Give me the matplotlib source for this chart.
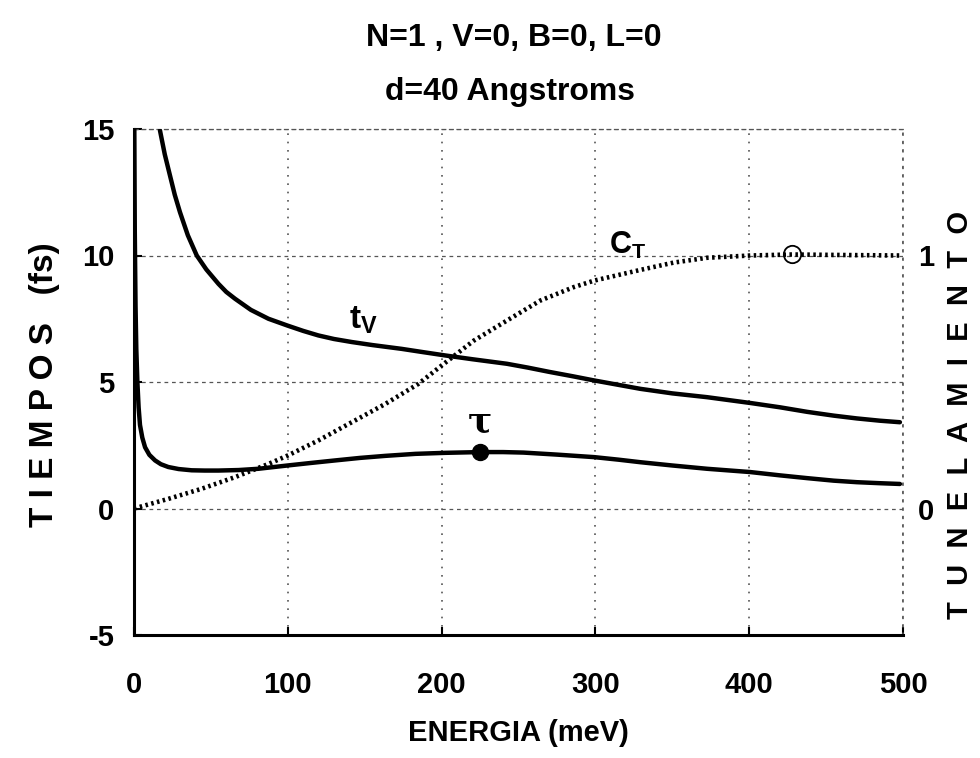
import matplotlib
matplotlib.use("Agg")
import matplotlib.pyplot as plt

plt.rcParams['font.family'] = ['Liberation Sans', 'DejaVu Sans']
plt.rcParams['font.weight'] = 'bold'
plt.rcParams['axes.labelweight'] = 'bold'
plt.rcParams['axes.unicode_minus'] = False
plt.rcParams['mathtext.default'] = 'regular'

# ---- data ----
E_tv = [16.9, 20, 23.4, 26.5, 29.9, 35, 40.8, 47, 54.9, 60, 65.7, 76, 87.4, 99.8, 110, 119.9, 130, 141.6, 155,
        174, 188, 202.3, 220, 242.5, 256, 270, 285, 299.3, 329.2, 350, 372.6, 400.8, 420, 437.7, 455, 470, 485, 498]
t_v = [14.94, 14.0, 13.16, 12.4, 11.71, 10.8, 10.0, 9.45, 8.88, 8.56, 8.29, 7.85, 7.5, 7.23, 7.02, 6.84, 6.7, 6.58,
       6.46, 6.31, 6.18, 6.05, 5.9, 5.72, 5.57, 5.4, 5.23, 5.06, 4.73, 4.55, 4.4, 4.17, 4.0, 3.82, 3.67, 3.56, 3.47, 3.41]

E_tau = [0.2, 0.5, 1.0, 1.5, 2.2, 3.0, 3.9, 5.4, 7.2, 10, 13.7, 17.5, 22.3, 29, 37.5, 46, 54.9, 68, 80.9, 99.8,
         115, 130.8, 147, 163.3, 183, 202.3, 225.1, 240, 253.3, 275, 299.3, 315, 329.2, 350, 372.6, 400.8, 420,
         437.7, 455, 470, 485, 498]
tau = [15.0, 11.0, 8.0, 6.3, 5.0, 4.0, 3.3, 2.8, 2.42, 2.12, 1.9, 1.75, 1.64, 1.56, 1.51, 1.5, 1.5, 1.52, 1.57, 1.7,
       1.8, 1.9, 2.0, 2.08, 2.16, 2.2, 2.23, 2.23, 2.21, 2.13, 2.03, 1.93, 1.83, 1.7, 1.57, 1.44, 1.31, 1.2, 1.1, 1.04,
       1.0, 0.97]

E_ct = [0, 22.3, 44, 65.7, 87.4, 99.8, 119.9, 141.6, 163.3, 185, 200, 220.8, 242.5, 264.2, 285.9, 299.3,
        315, 329.2, 350.9, 372.6, 400.8, 427.9, 460, 498]
ct = [0.0, 0.038, 0.078, 0.124, 0.176, 0.209, 0.269, 0.341, 0.413, 0.493, 0.565, 0.663, 0.743, 0.822, 0.875, 0.901,
      0.923, 0.943, 0.972, 0.991, 1.0, 1.004, 1.002, 1.0]

tau_mark = (225.1, 2.23)
ct_mark = (427.9, 1.004)

x_ticks = [0, 100, 200, 300, 400, 500]
y_ticks = [-5, 0, 5, 10, 15]
r_ticks = [0, 1]

title1 = "N=1 , V=0, B=0, L=0"
title2 = "d=40 Angstroms"

fig = plt.figure(figsize=(9.8, 7.58), dpi=100)
ax = fig.add_axes([134/980, 1-635/758, (903-134)/980, (635-129)/758])
ax.set_xlim(0, 500)
ax.set_ylim(-5, 15)

ax.plot(E_tv, t_v, color='black', lw=3.2, solid_capstyle='round', solid_joinstyle='round', zorder=4)
ax.plot(E_tau, tau, color='black', lw=3.2, solid_capstyle='round', solid_joinstyle='round', zorder=4)
ax.plot(*tau_mark, marker='o', ms=11.5, color='black', zorder=5)

ax2 = ax.twinx()
ax2.set_ylim(-0.5, 1.5)
ax2.plot(E_ct, ct, color='black', lw=3.3, linestyle=(0, (0.55, 0.75)), zorder=4)
ax2.plot(*ct_mark, marker='o', ms=12.5, mfc='none', mec='black', mew=1.3, zorder=5)

# grid
ax.set_xticks(x_ticks)
ax.set_yticks(y_ticks)
ax.xaxis.grid(True, linestyle=(0, (1, 4)), color='#555555', lw=1.2)
ax.yaxis.grid(True, linestyle=(0, (3, 3)), color='#555555', lw=0.9)
ax.set_axisbelow(True)

for s in ['left', 'bottom']:
    ax.spines[s].set_linewidth(2.2)
ax.spines['top'].set_linestyle((0, (3, 3)))
ax.spines['top'].set_linewidth(0.9)
ax.spines['top'].set_color('#555555')
ax.spines['right'].set_linestyle((0, (1, 4)))
ax.spines['right'].set_linewidth(1.2)
ax.spines['right'].set_color('#555555')
for s in ax2.spines.values():
    s.set_visible(False)

ax.tick_params(axis='both', direction='in', length=6, width=1.5, labelsize=21)
ax.tick_params(axis='x', pad=26)
ax.tick_params(axis='y', pad=14)
ax2.set_yticks(r_ticks)
ax2.tick_params(axis='y', length=0, labelsize=21, pad=11)

ax.set_xlabel("ENERGIA (meV)", fontsize=21, fontweight='bold', labelpad=14)
fig.text(45/980, 1-385/758, "T I E M P O S   (fs)", rotation=90, ha='center', va='center', fontsize=24)
fig.text(960/980, 1-415/758, "T  U  N  E  L  A  M  I  E  N  T  O", rotation=90, ha='center', va='center', fontsize=21)

fig.text(514/980, 1-38/758, title1, ha='center', va='center', fontsize=23)
fig.text(510/980, 1-92/758, title2, ha='center', va='center', fontsize=23)

ax.text(149, 7.45, r"t$_V$", fontsize=24, ha='center', va='center', zorder=6)
ax.text(321, 10.4, r"C$_T$", fontsize=22, ha='center', va='center', zorder=6)
ax.text(225, 3.45, "τ", fontsize=26, ha='center', va='center', zorder=6, family=['DejaVu Serif'])

fig.savefig("out.png", dpi=100)
